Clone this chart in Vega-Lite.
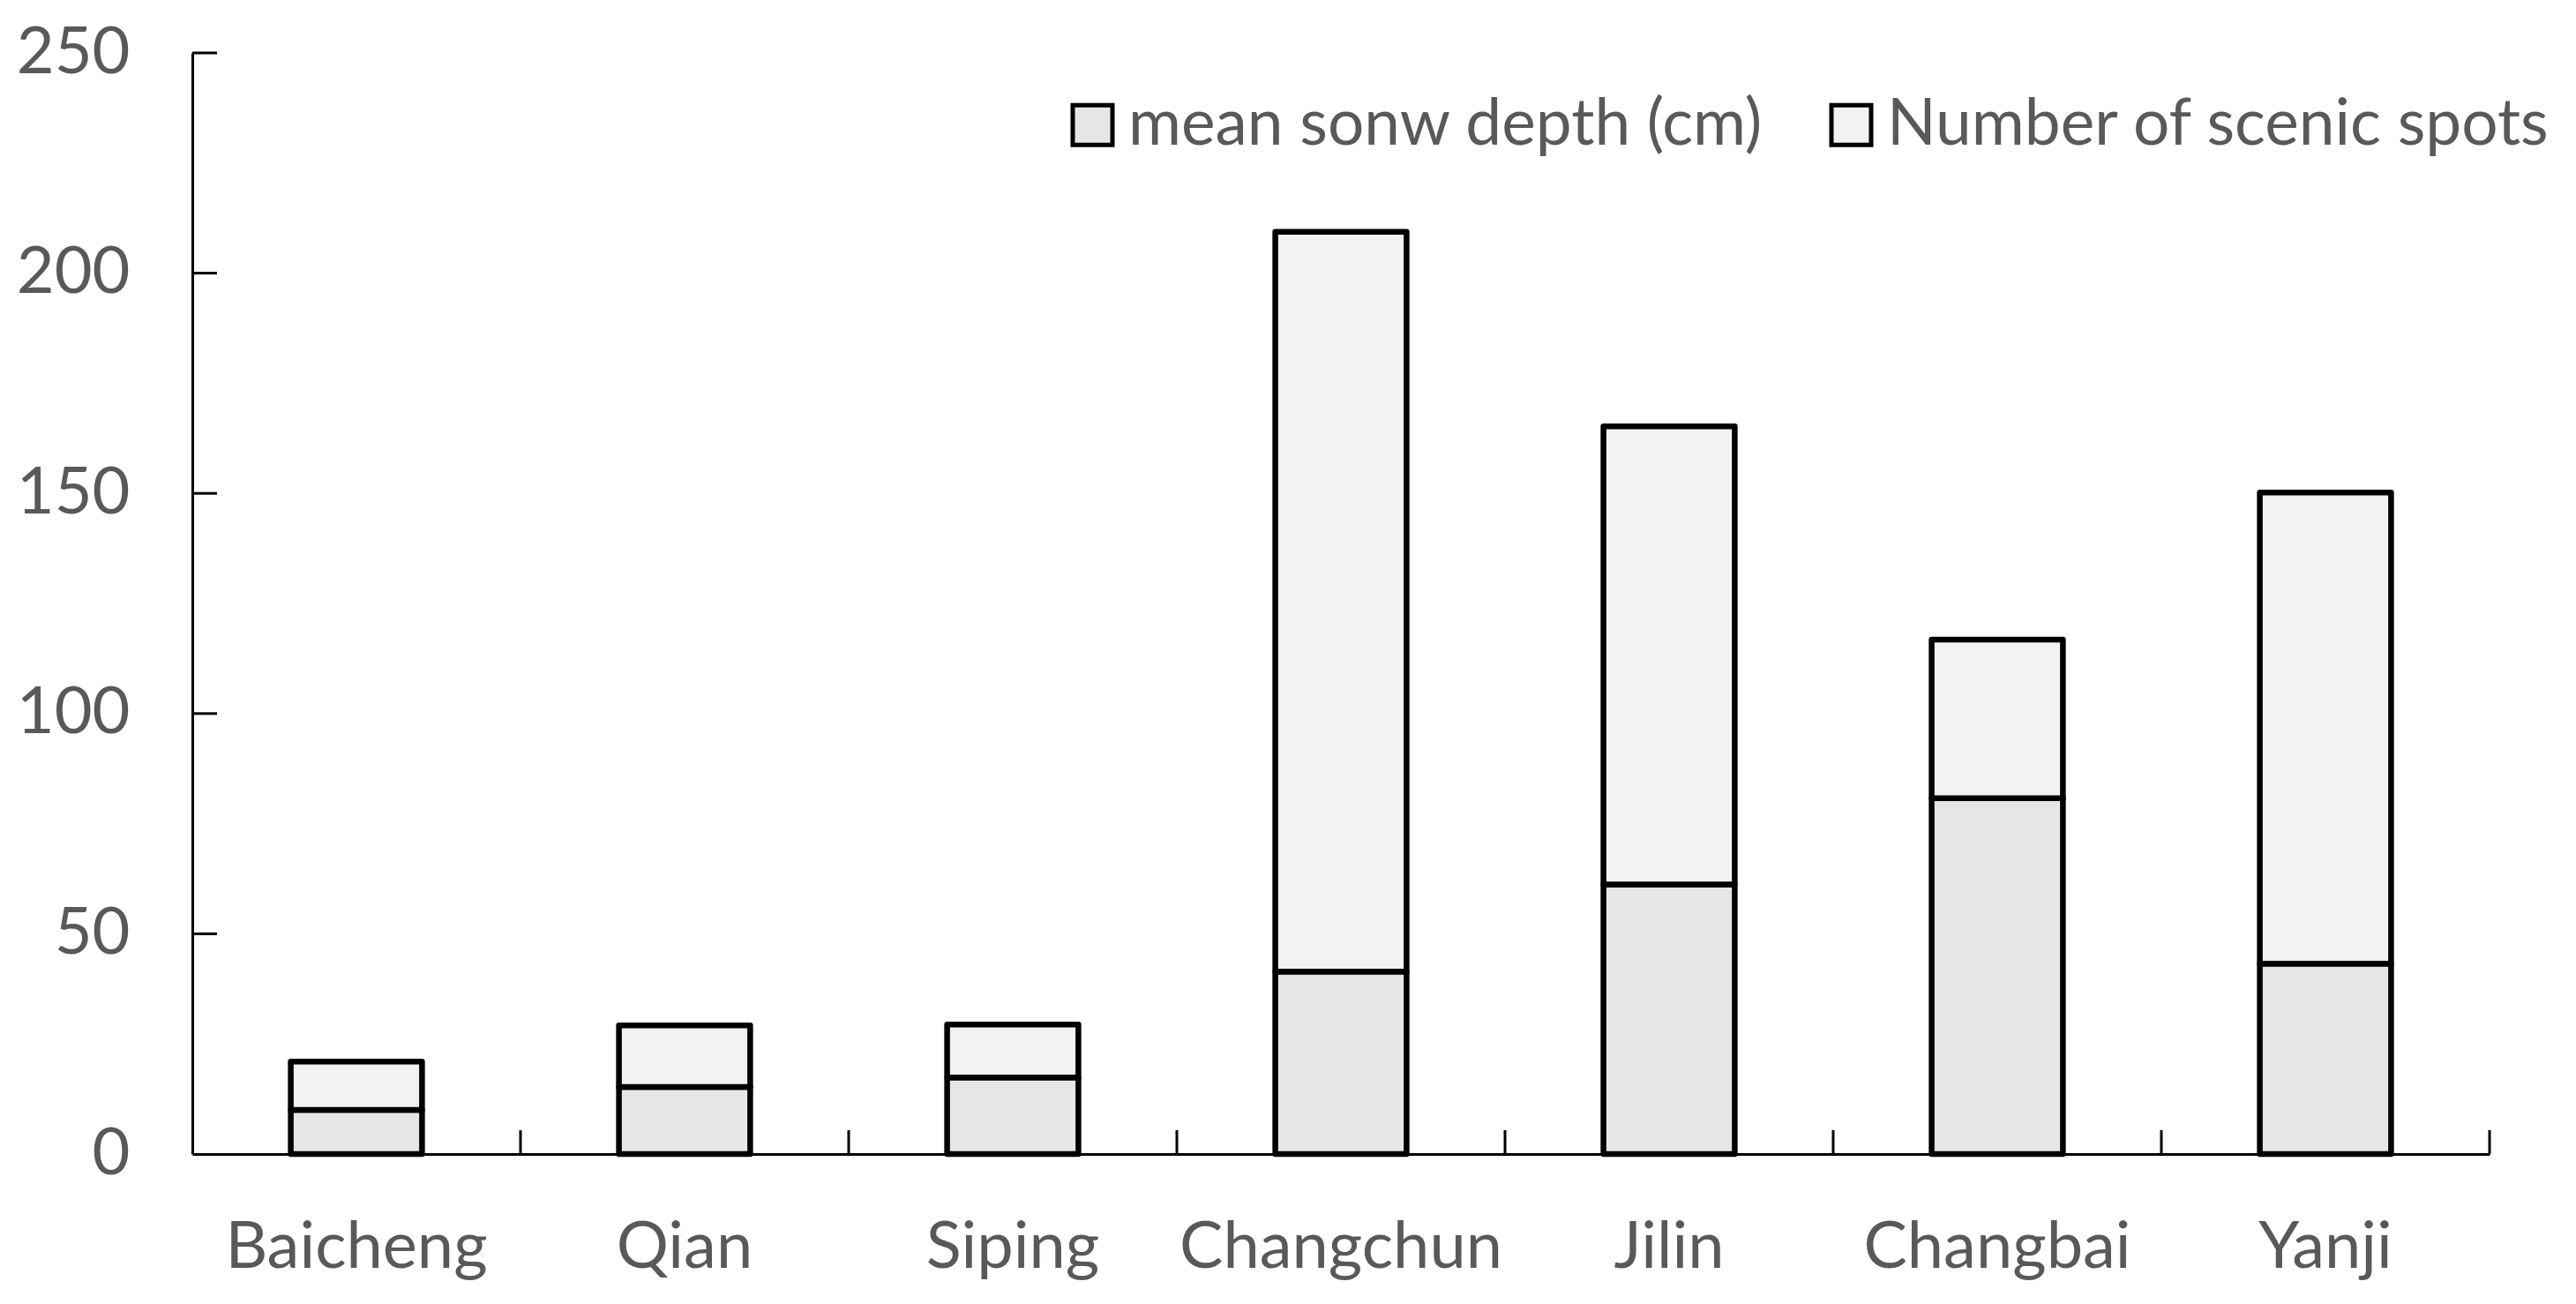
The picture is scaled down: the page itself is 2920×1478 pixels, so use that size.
{
  "$schema": "https://vega.github.io/schema/vega-lite/v6.json",
  "width": 2604,
  "height": 1248,
  "autosize": "none",
  "padding": {"left": 218, "top": 60, "right": 98, "bottom": 170},
  "background": "white",
  "config": {"view": {"stroke": null}, "font": "Lato"},
  "data": {
    "values": [
      {"city": "Baicheng", "series": "mean sonw depth (cm)", "ord": 0, "value": 10},
      {"city": "Baicheng", "series": "Number of scenic spots", "ord": 1, "value": 11},
      {"city": "Qian", "series": "mean sonw depth (cm)", "ord": 0, "value": 15.2},
      {"city": "Qian", "series": "Number of scenic spots", "ord": 1, "value": 14},
      {"city": "Siping", "series": "mean sonw depth (cm)", "ord": 0, "value": 17.4},
      {"city": "Siping", "series": "Number of scenic spots", "ord": 1, "value": 12},
      {"city": "Changchun", "series": "mean sonw depth (cm)", "ord": 0, "value": 41.4},
      {"city": "Changchun", "series": "Number of scenic spots", "ord": 1, "value": 168},
      {"city": "Jilin", "series": "mean sonw depth (cm)", "ord": 0, "value": 61.2},
      {"city": "Jilin", "series": "Number of scenic spots", "ord": 1, "value": 104},
      {"city": "Changbai", "series": "mean sonw depth (cm)", "ord": 0, "value": 80.8},
      {"city": "Changbai", "series": "Number of scenic spots", "ord": 1, "value": 36},
      {"city": "Yanji", "series": "mean sonw depth (cm)", "ord": 0, "value": 43.2},
      {"city": "Yanji", "series": "Number of scenic spots", "ord": 1, "value": 107}
    ]
  },
  "layer": [
    {
      "mark": {"type": "bar", "stroke": "black", "strokeWidth": 6.5, "strokeJoin": "round"},
      "encoding": {
        "x": {
          "field": "city",
          "type": "nominal",
          "sort": ["Baicheng", "Qian", "Siping", "Changchun", "Jilin", "Changbai", "Yanji"],
          "scale": {"paddingInner": 0.6, "paddingOuter": 0.3},
          "axis": {
            "title": null,
            "labelAngle": 0,
            "labelLimit": 0,
            "ticks": false,
            "labelPadding": 70,
            "domainColor": "black",
            "domainWidth": 3,
            "labelFontSize": 74,
            "labelColor": "#595959",
            "labelBaseline": "top"
          }
        },
        "y": {
          "field": "value",
          "type": "quantitative",
          "stack": "zero",
          "scale": {"domain": [0, 250], "nice": false},
          "axis": {
            "title": null,
            "values": [0, 50, 100, 150, 200, 250],
            "grid": false,
            "ticks": false,
            "labelPadding": 71,
            "domainColor": "black",
            "domainWidth": 3,
            "labelFontSize": 74,
            "labelColor": "#595959"
          }
        },
        "color": {
          "field": "series",
          "type": "nominal",
          "scale": {
            "domain": ["mean sonw depth (cm)", "Number of scenic spots"],
            "range": ["#e6e6e6", "#f2f2f2"]
          },
          "legend": {
            "title": null,
            "orient": "none",
            "legendX": 984,
            "legendY": 45,
            "direction": "horizontal",
            "symbolType": "square",
            "symbolSize": 2025,
            "symbolStrokeColor": "black",
            "symbolStrokeWidth": 5,
            "symbolOpacity": 1,
            "labelFontSize": 73,
            "labelLimit": 0,
            "labelColor": "#595959",
            "labelOffset": 4,
            "columnPadding": 63,
            "padding": 0
          }
        },
        "order": {"field": "ord", "type": "quantitative"}
      }
    },
    {
      "transform": [{"filter": "datum.ord == 0 && datum.city != 'Baicheng'"}],
      "mark": {"type": "rule", "stroke": "black", "strokeWidth": 3},
      "encoding": {
        "x": {"field": "city", "type": "nominal", "sort": ["Baicheng", "Qian", "Siping", "Changchun", "Jilin", "Changbai", "Yanji"], "bandPosition": -0.75},
        "y": {"datum": 0},
        "y2": {"datum": 5.4}
      }
    },
    {
      "transform": [{"filter": "datum.ord == 0 && datum.city == 'Yanji'"}],
      "mark": {"type": "rule", "stroke": "black", "strokeWidth": 3},
      "encoding": {
        "x": {"field": "city", "type": "nominal", "sort": ["Baicheng", "Qian", "Siping", "Changchun", "Jilin", "Changbai", "Yanji"], "bandPosition": 1.75},
        "y": {"datum": 0},
        "y2": {"datum": 5.4}
      }
    },
    {
      "data": {
        "values": [
          {"city": "Baicheng", "tick": 50},
          {"city": "Baicheng", "tick": 100},
          {"city": "Baicheng", "tick": 150},
          {"city": "Baicheng", "tick": 200},
          {"city": "Baicheng", "tick": 250}
        ]
      },
      "mark": {"type": "tick", "orient": "horizontal", "color": "black", "size": 28, "thickness": 3, "xOffset": -172, "opacity": 1},
      "encoding": {
        "x": {"field": "city", "type": "nominal", "sort": ["Baicheng", "Qian", "Siping", "Changchun", "Jilin", "Changbai", "Yanji"]},
        "y": {"field": "tick", "type": "quantitative"}
      }
    }
  ]
}
